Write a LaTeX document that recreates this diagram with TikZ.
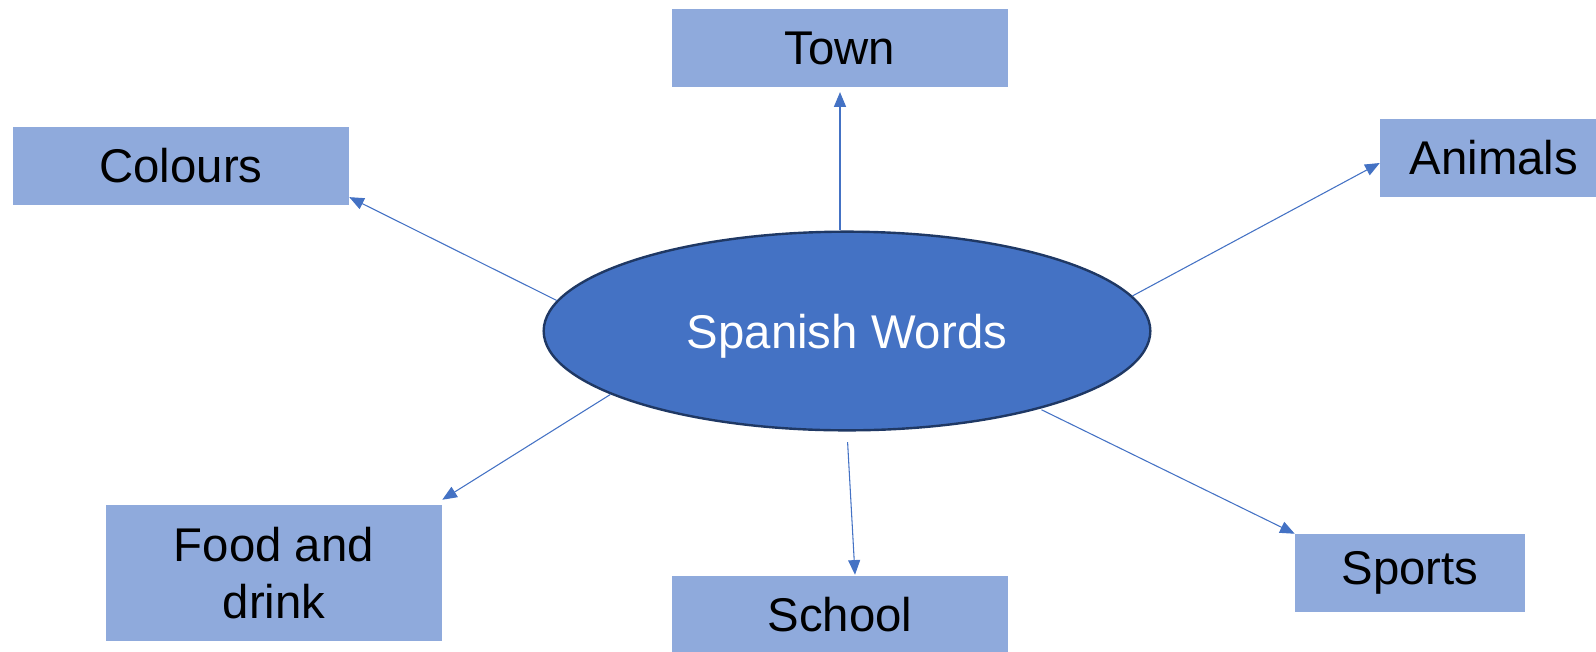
\documentclass[tikz,border=0pt]{standalone}
\usepackage{fontspec}
\setmainfont{Liberation Sans}
\usetikzlibrary{arrows.meta,shapes.geometric}
\definecolor{boxfill}{HTML}{8FAADC}
\definecolor{ellfill}{HTML}{4472C4}
\definecolor{elldraw}{HTML}{1F3864}
\definecolor{arrcol}{HTML}{4472C4}
\begin{document}
\begin{tikzpicture}[x=0.75pt,y=-0.75pt,
  topic/.style={rectangle, fill=boxfill, inner sep=0pt, font=\fontsize{35.5}{43}\selectfont, text=black, align=center},
  hub/.style={ellipse, fill=ellfill, draw=elldraw, line width=1.8pt, inner sep=0pt, minimum width=455pt, minimum height=149pt, font=\fontsize{35.5}{43}\selectfont, text=white, text depth=0pt},
  conn/.style={draw=arrcol, line width=0.8pt, -{Triangle[length=11pt,width=9pt]}}
]
\clip (0,0) rectangle (1596,651);
\node[hub] (ell) at (847,331) {Spanish Words};
\node[topic, minimum width=252pt, minimum height=58.3pt] (town) at (840,48) {Town};
\node[topic, minimum width=252pt, minimum height=58.3pt] (colours) at (181,166) {Colours};
\node[topic, minimum width=171pt, minimum height=58.5pt] (animals) at (1494,158) {Animals};
\node[topic, minimum width=252pt, minimum height=102pt] (food) at (274,573) {Food and\\drink};
\node[topic, minimum width=252pt, minimum height=58.5pt] (school) at (840,615) {School};
\node[topic, minimum width=172.5pt, minimum height=58.5pt] (sports) at (1410,573) {Sports};
\draw[conn] (ell.north -| town.south) -- ([yshift=-3.75pt]town.south);
\draw[conn] (ell.174.6) -- ([yshift=6pt]colours.south east);
\draw[conn] (ell.7.7) -- ([yshift=-3.75pt]animals.west);
\draw[conn] (ell.195.75) -- ([yshift=3.75pt]food.north east);
\draw[conn, shorten <=8pt] (ell.south) -- ([xshift=11.25pt,yshift=0.75pt]school.north);
\draw[conn, shorten <=1.5pt] (ell.-22) -- (sports.north west);
\end{tikzpicture}
\end{document}
